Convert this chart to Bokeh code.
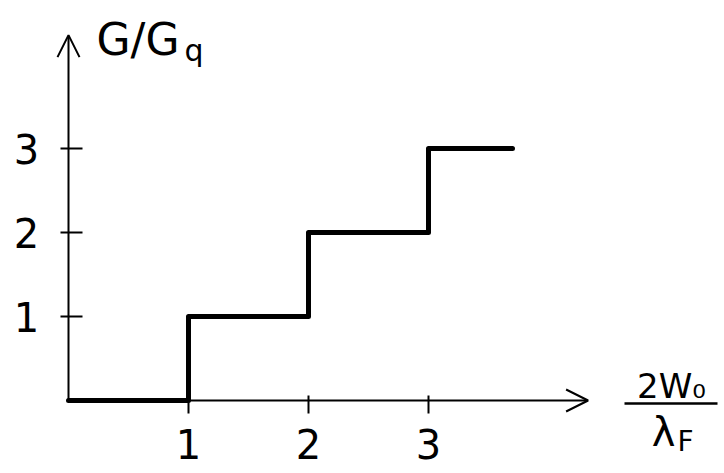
from bokeh.plotting import figure
from bokeh.models import Arrow, OpenHead, Range1d
from bokeh.core.properties import value
from bokeh.embed import file_html
from bokeh.resources import INLINE

# ---- data ----
step_x = [0, 1, 1, 2, 2, 3, 3, 3.7]
step_y = [0, 0, 1, 1, 2, 2, 3, 3]
x_ticks = [1, 2, 3]
x_tick_labels = ["1", "2", "3"]
y_ticks = [1, 2, 3]
y_tick_labels = ["1", "2", "3"]
x_axis_end = 4.33
y_axis_end = 4.35
y_title_main = "G/G"
y_title_sub = "q"
x_title_num = "2W\u2080"
x_title_den_main = "\u03bb"
x_title_den_sub = "F"

# ---- layout ----
W, H = 724, 473
OX, OY = 68, 400      # canvas pixel of the origin
UX, UY = 120, 84      # pixels per unit

def dx(px):  # canvas pixel -> data x
    return (px - OX) / UX

def dy(py):  # canvas pixel -> data y
    return (OY - py) / UY

FONT = value("DejaVu Sans")

p = figure(width=W, height=H,
           x_range=Range1d(-OX / UX, (W - OX) / UX),
           y_range=Range1d(-(H - OY) / UY, OY / UY),
           x_axis_location=None, y_axis_location=None,
           output_backend="svg", toolbar_location=None, min_border=0)
p.grid.visible = False
p.outline_line_color = None
p.background_fill_color = "white"
p.border_fill_color = "white"

# axes with open arrowheads
p.add_layout(Arrow(end=OpenHead(size=22, line_width=2, line_color="black"),
                   x_start=0, y_start=0, x_end=x_axis_end, y_end=0,
                   line_width=2, line_color="black"))
p.add_layout(Arrow(end=OpenHead(size=22, line_width=2, line_color="black"),
                   x_start=0, y_start=0, x_end=0, y_end=y_axis_end,
                   line_width=2, line_color="black"))

# tick marks crossing the axes
n = len(x_ticks)
p.segment(x0=x_ticks, y0=[-13 / UY] * n, x1=x_ticks, y1=[5 / UY] * n,
          line_color="black", line_width=2)
m = len(y_ticks)
p.segment(x0=[-8 / UX] * m, y0=y_ticks, x1=[14 / UX] * m, y1=y_ticks,
          line_color="black", line_width=2)

# tick labels
p.text(x=x_ticks, y=[dy(443)] * n, text=x_tick_labels,
       text_align="center", text_baseline="middle", text_font=FONT,
       text_font_size="40px", text_color="black")
p.text(x=[dx(26)] * m, y=y_ticks, text=y_tick_labels,
       text_align="center", text_baseline="middle", text_font=FONT,
       text_font_size="40px", text_color="black")

# staircase
p.line(step_x, step_y, line_color="black", line_width=5, line_join="round", line_cap="round")

# y title  G/Gq
p.text(x=[dx(96)], y=[dy(39)], text=[y_title_main], text_align="left",
       text_baseline="middle", text_font=FONT, text_font_size="44px", text_color="black")
p.text(x=[dx(184)], y=[dy(50)], text=[y_title_sub], text_align="left",
       text_baseline="middle", text_font=FONT, text_font_size="30px", text_color="black")

# x title as a fraction  2W0 / lambda_F
p.text(x=[dx(671)], y=[dy(385)], text=[x_title_num], text_align="center",
       text_baseline="middle", text_font=FONT, text_font_size="34px", text_color="black")
p.segment(x0=[dx(624)], y0=[dy(403)], x1=[dx(717)], y1=[dy(403)],
          line_color="black", line_width=2.5)
p.text(x=[dx(675)], y=[dy(431)], text=[x_title_den_main], text_align="right",
       text_baseline="middle", text_font=FONT, text_font_size="40px", text_color="black")
p.text(x=[dx(677)], y=[dy(441)], text=[x_title_den_sub], text_align="left",
       text_baseline="middle", text_font=FONT, text_font_size="28px", text_color="black")

open("out.html", "w").write(file_html(p, INLINE))
